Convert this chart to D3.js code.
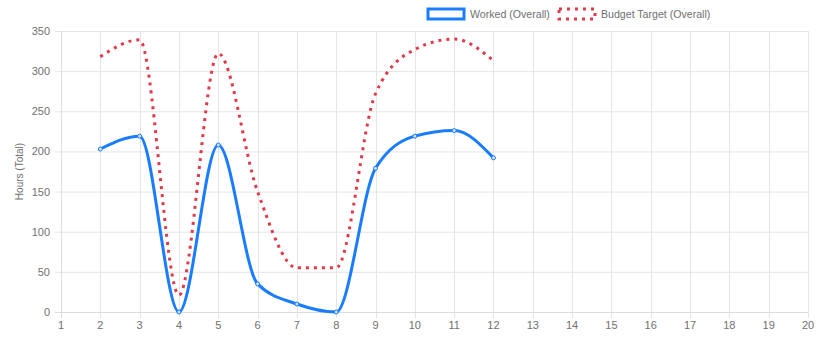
<!DOCTYPE html>
<html><head><meta charset="utf-8">
<script src="https://cdn.jsdelivr.net/npm/d3@7"></script>
<style>body{margin:0;background:#fff}svg{display:block}text{font-family:"Liberation Sans",Arial,sans-serif}</style>
</head><body><svg id="c" width="827" height="346"></svg>
<script>
const months = [2,3,4,5,6,7,8,9,10,11,12];
const worked = [203,219,0,208,35,10,0,179,219,226,192];
const budget = [318,339,21,322,150,55,55,272,327,340,313];
const xTicks = d3.range(1,21);
const yTicks = [0,50,100,150,200,250,300,350];
const seriesNames = ["Worked (Overall)","Budget Target (Overall)"];
const colors = ["#1a7cff","#e0394a"];

const svg = d3.select("#c");
const x = d3.scaleLinear().domain([1,20]).range([61,808]);
const y = d3.scaleLinear().domain([0,350]).range([312,31]);
const grid = "#e5e5e5", tc = "#707070";

// grid
svg.append("g").selectAll("line").data(yTicks).join("line")
  .attr("x1",55).attr("x2",808).attr("y1",d=>y(d)+0.5).attr("y2",d=>y(d)+0.5)
  .attr("stroke",grid);
svg.append("g").selectAll("line").data(xTicks).join("line")
  .attr("x1",d=>Math.round(x(d))+0.5).attr("x2",d=>Math.round(x(d))+0.5).attr("y1",31).attr("y2",318)
  .attr("stroke",grid);
svg.append("line").attr("x1",61.5).attr("x2",61.5).attr("y1",31).attr("y2",318).attr("stroke","#dcdcdc");
svg.append("line").attr("x1",55).attr("x2",808).attr("y1",y(0)+0.5).attr("y2",y(0)+0.5).attr("stroke","#dcdcdc");

svg.append("g").selectAll("text").data(yTicks).join("text")
  .attr("x",50).attr("y",d=>y(d)+4).attr("text-anchor","end")
  .attr("font-size",11).attr("fill",tc).text(d=>d);
svg.append("g").selectAll("text").data(xTicks).join("text")
  .attr("x",d=>x(d)).attr("y",329).attr("text-anchor","middle")
  .attr("font-size",11).attr("fill",tc).text(d=>d);
svg.append("text").attr("transform","translate(23,"+((31+312)/2)+") rotate(-90)")
  .attr("text-anchor","middle").attr("font-size",10).attr("fill",tc).text("Hours (Total)");

const line = d3.line().x(d=>x(d[0])).y(d=>y(d[1])).curve(d3.curveMonotoneX);
const bData = months.map((m,i)=>[m,budget[i]]);
const wData = months.map((m,i)=>[m,worked[i]]);
svg.append("path").datum(bData).attr("d",line).attr("fill","none")
  .attr("stroke",colors[1]).attr("stroke-width",3).attr("stroke-dasharray","3,5");
svg.append("path").datum(wData).attr("d",line).attr("fill","none")
  .attr("stroke",colors[0]).attr("stroke-width",3);
svg.append("g").selectAll("circle").data(wData).join("circle")
  .attr("cx",d=>x(d[0])).attr("cy",d=>y(d[1])).attr("r",2)
  .attr("fill","#cfe2ff").attr("stroke",colors[0]).attr("stroke-width",1);

// legend
const lg = svg.append("g");
lg.append("rect").attr("x",428).attr("y",9).attr("width",36).attr("height",10)
  .attr("fill","#fff").attr("stroke",colors[0]).attr("stroke-width",3);
lg.append("text").attr("x",470).attr("y",18).attr("font-size",10.6).attr("fill",tc).text(seriesNames[0]);
lg.append("rect").attr("x",559).attr("y",9).attr("width",36).attr("height",10)
  .attr("fill","#fff").attr("stroke",colors[1]).attr("stroke-width",3).attr("stroke-dasharray","3,5");
lg.append("text").attr("x",601).attr("y",18).attr("font-size",10.6).attr("fill",tc).text(seriesNames[1]);
</script></body></html>
